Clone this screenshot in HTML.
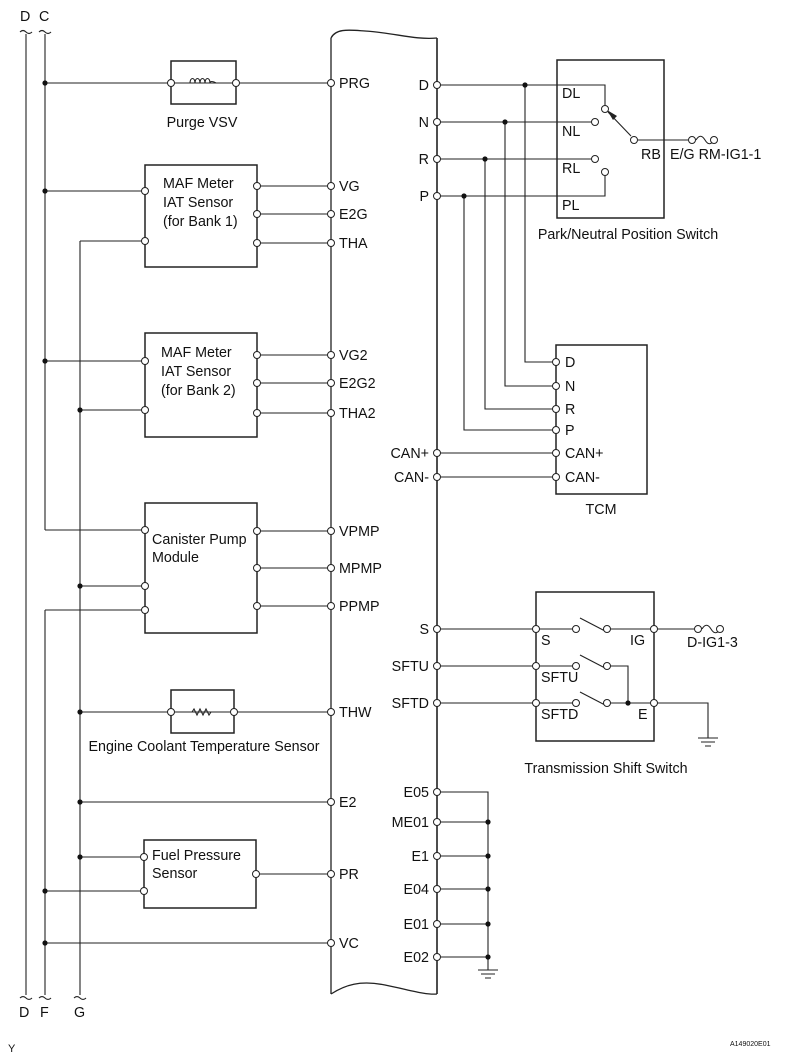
<!DOCTYPE html>
<html><head><meta charset="utf-8"><style>
html,body{margin:0;padding:0;background:#fff}
svg{display:block}
text{font-family:"Liberation Sans",Arial,sans-serif;font-size:14.3px;fill:#111}
</style></head><body>
<svg width="788" height="1056" viewBox="0 0 788 1056" xmlns="http://www.w3.org/2000/svg">
<g stroke="#222" stroke-width="1.1" fill="none">
<line x1="26" y1="34" x2="26" y2="995"/>
<line x1="45" y1="34" x2="45" y2="530"/>
<line x1="45" y1="530" x2="145" y2="530"/>
<line x1="45" y1="610" x2="45" y2="995"/>
<line x1="45" y1="610" x2="145" y2="610"/>
<line x1="80" y1="241" x2="80" y2="995"/>
<line x1="80" y1="241" x2="145" y2="241"/>
<path d="M20 32 q3 -3 6 0 t6 0 M39 32 q3 -3 6 0 t6 0"/>
<path d="M20 998 q3 -3 6 0 t6 0 M39 998 q3 -3 6 0 t6 0 M74 998 q3 -3 6 0 t6 0"/>
<path d="M331 38 C336 28 350 30 365 31 C395 33 415 40 437 38" stroke-width="1.3"/>
<line x1="331" y1="38" x2="331" y2="994" stroke-width="1.3"/>
<line x1="437" y1="38" x2="437" y2="994" stroke-width="1.6"/>
<path d="M331 994 C345 985 360 980 385 985 C410 990 425 995 437 994" stroke-width="1.3"/>
<rect x="171" y="61" width="65" height="43" stroke-width="1.5"/>
<rect x="145" y="165" width="112" height="102" stroke-width="1.5"/>
<rect x="145" y="333" width="112" height="104" stroke-width="1.5"/>
<rect x="145" y="503" width="112" height="130" stroke-width="1.5"/>
<rect x="171" y="690" width="63" height="43" stroke-width="1.5"/>
<rect x="144" y="840" width="112" height="68" stroke-width="1.5"/>
<rect x="557" y="60" width="107" height="158" stroke-width="1.5"/>
<rect x="556" y="345" width="91" height="149" stroke-width="1.5"/>
<rect x="536" y="592" width="118" height="149" stroke-width="1.5"/>
<line x1="45" y1="83" x2="331" y2="83"/>
<path d="M178 83 H190 M216 83 H229"/>
<path d="M190 83 c0-6 5-6 5 0 c0-6 5-6 5 0 c0-6 5-6 5 0 c0-6 5-6 5 0 c0 -2 3-2 6 0"/>
<line x1="45" y1="191" x2="145" y2="191"/>
<line x1="257" y1="186" x2="331" y2="186"/>
<line x1="257" y1="214" x2="331" y2="214"/>
<line x1="257" y1="243" x2="331" y2="243"/>
<line x1="45" y1="361" x2="145" y2="361"/>
<line x1="80" y1="410" x2="145" y2="410"/>
<line x1="257" y1="355" x2="331" y2="355"/>
<line x1="257" y1="383" x2="331" y2="383"/>
<line x1="257" y1="413" x2="331" y2="413"/>
<line x1="80" y1="586" x2="145" y2="586"/>
<line x1="257" y1="531" x2="331" y2="531"/>
<line x1="257" y1="568" x2="331" y2="568"/>
<line x1="257" y1="606" x2="331" y2="606"/>
<line x1="80" y1="712" x2="331" y2="712"/>
<path d="M192 712 l2 -3 l3 6 l3 -6 l3 6 l3 -6 l3 6 l2 -3"/>
<line x1="80" y1="802" x2="331" y2="802"/>
<line x1="80" y1="857" x2="144" y2="857"/>
<line x1="45" y1="891" x2="144" y2="891"/>
<line x1="256" y1="874" x2="331" y2="874"/>
<line x1="45" y1="943" x2="331" y2="943"/>
<path d="M437 85 H605 V106"/>
<line x1="437" y1="122" x2="592" y2="122"/>
<line x1="437" y1="159" x2="592" y2="159"/>
<path d="M437 196 H605 V175"/>
<line x1="608" y1="112" x2="631" y2="136"/>
<path d="M638 140 H688 M696 140 c3-5 6-5 9 0 s6 5 9 0"/>
<path d="M525 85 V362 H556 M505 122 V386 H556 M485 159 V409 H556 M464 196 V430 H556"/>
<line x1="437" y1="453" x2="556" y2="453"/>
<line x1="437" y1="477" x2="556" y2="477"/>
<line x1="437" y1="629" x2="573" y2="629"/>
<line x1="437" y1="666" x2="573" y2="666"/>
<line x1="437" y1="703" x2="573" y2="703"/>
<path d="M580 618 L605 631 M580 655 L605 668 M580 692 L605 705"/>
<path d="M610 629 H654 M610 666 H628 V703 M610 703 H654"/>
<path d="M654 629 H694 M702 629 c3-5 6-5 9 0 s6 5 9 0"/>
<path d="M654 703 H708 V738 M698 738 H718 M701 742 H715 M705 746 H711"/>
<path d="M437 792 H488 V970 M478 970 H498 M481 974 H495 M485 978 H491"/>
<path d="M437 822 H488 M437 856 H488 M437 889 H488 M437 924 H488 M437 957 H488"/>
</g>
<polygon points="607,110 617,116 613,120" fill="#222"/>
<g fill="#111">
<circle cx="45" cy="83" r="2.6"/><circle cx="45" cy="191" r="2.6"/><circle cx="45" cy="361" r="2.6"/>
<circle cx="80" cy="410" r="2.6"/><circle cx="80" cy="586" r="2.6"/><circle cx="80" cy="712" r="2.6"/>
<circle cx="80" cy="802" r="2.6"/><circle cx="80" cy="857" r="2.6"/><circle cx="45" cy="891" r="2.6"/>
<circle cx="45" cy="943" r="2.6"/>
<circle cx="525" cy="85" r="2.6"/><circle cx="505" cy="122" r="2.6"/><circle cx="485" cy="159" r="2.6"/><circle cx="464" cy="196" r="2.6"/>
<circle cx="628" cy="703" r="2.6"/>
<circle cx="488" cy="822" r="2.6"/><circle cx="488" cy="856" r="2.6"/><circle cx="488" cy="889" r="2.6"/><circle cx="488" cy="924" r="2.6"/><circle cx="488" cy="957" r="2.6"/>
</g>
<g fill="#fff" stroke="#222" stroke-width="1">
<circle cx="171" cy="83" r="3.5"/><circle cx="236" cy="83" r="3.5"/>
<circle cx="145" cy="191" r="3.5"/><circle cx="145" cy="241" r="3.5"/>
<circle cx="257" cy="186" r="3.5"/><circle cx="257" cy="214" r="3.5"/><circle cx="257" cy="243" r="3.5"/>
<circle cx="145" cy="361" r="3.5"/><circle cx="145" cy="410" r="3.5"/>
<circle cx="257" cy="355" r="3.5"/><circle cx="257" cy="383" r="3.5"/><circle cx="257" cy="413" r="3.5"/>
<circle cx="145" cy="530" r="3.5"/><circle cx="145" cy="586" r="3.5"/><circle cx="145" cy="610" r="3.5"/>
<circle cx="257" cy="531" r="3.5"/><circle cx="257" cy="568" r="3.5"/><circle cx="257" cy="606" r="3.5"/>
<circle cx="171" cy="712" r="3.5"/><circle cx="234" cy="712" r="3.5"/>
<circle cx="144" cy="857" r="3.5"/><circle cx="144" cy="891" r="3.5"/><circle cx="256" cy="874" r="3.5"/>
<circle cx="331" cy="83" r="3.5"/><circle cx="331" cy="186" r="3.5"/><circle cx="331" cy="214" r="3.5"/><circle cx="331" cy="243" r="3.5"/>
<circle cx="331" cy="355" r="3.5"/><circle cx="331" cy="383" r="3.5"/><circle cx="331" cy="413" r="3.5"/>
<circle cx="331" cy="531" r="3.5"/><circle cx="331" cy="568" r="3.5"/><circle cx="331" cy="606" r="3.5"/>
<circle cx="331" cy="712" r="3.5"/><circle cx="331" cy="802" r="3.5"/><circle cx="331" cy="874" r="3.5"/><circle cx="331" cy="943" r="3.5"/>
<circle cx="437" cy="85" r="3.5"/><circle cx="437" cy="122" r="3.5"/><circle cx="437" cy="159" r="3.5"/><circle cx="437" cy="196" r="3.5"/>
<circle cx="437" cy="453" r="3.5"/><circle cx="437" cy="477" r="3.5"/>
<circle cx="437" cy="629" r="3.5"/><circle cx="437" cy="666" r="3.5"/><circle cx="437" cy="703" r="3.5"/>
<circle cx="437" cy="792" r="3.5"/><circle cx="437" cy="822" r="3.5"/><circle cx="437" cy="856" r="3.5"/><circle cx="437" cy="889" r="3.5"/><circle cx="437" cy="924" r="3.5"/><circle cx="437" cy="957" r="3.5"/>
<circle cx="605" cy="109" r="3.5"/><circle cx="595" cy="122" r="3.5"/><circle cx="595" cy="159" r="3.5"/><circle cx="605" cy="172" r="3.5"/>
<circle cx="634" cy="140" r="3.5"/><circle cx="692" cy="140" r="3.5"/><circle cx="714" cy="140" r="3.5"/>
<circle cx="556" cy="362" r="3.5"/><circle cx="556" cy="386" r="3.5"/><circle cx="556" cy="409" r="3.5"/><circle cx="556" cy="430" r="3.5"/><circle cx="556" cy="453" r="3.5"/><circle cx="556" cy="477" r="3.5"/>
<circle cx="536" cy="629" r="3.5"/><circle cx="536" cy="666" r="3.5"/><circle cx="536" cy="703" r="3.5"/>
<circle cx="576" cy="629" r="3.5"/><circle cx="607" cy="629" r="3.5"/>
<circle cx="576" cy="666" r="3.5"/><circle cx="607" cy="666" r="3.5"/>
<circle cx="576" cy="703" r="3.5"/><circle cx="607" cy="703" r="3.5"/>
<circle cx="654" cy="629" r="3.5"/><circle cx="654" cy="703" r="3.5"/>
<circle cx="698" cy="629" r="3.5"/><circle cx="720" cy="629" r="3.5"/>
</g>
<text x="20" y="21">D</text><text x="39" y="21">C</text>
<text x="19" y="1017">D</text><text x="40" y="1017">F</text><text x="74" y="1017">G</text>
<text x="8" y="1052" style="font-size:11px">Y</text>
<text x="730" y="1046" style="font-size:7px">A149020E01</text>
<text x="202" y="127" text-anchor="middle">Purge VSV</text>
<text x="163" y="188">MAF Meter</text><text x="163" y="207">IAT Sensor</text><text x="163" y="226">(for Bank 1)</text>
<text x="161" y="357">MAF Meter</text><text x="161" y="376">IAT Sensor</text><text x="161" y="395">(for Bank 2)</text>
<text x="152" y="544">Canister Pump</text><text x="152" y="562">Module</text>
<text x="204" y="751" text-anchor="middle">Engine Coolant Temperature Sensor</text>
<text x="152" y="860">Fuel Pressure</text><text x="152" y="878">Sensor</text>
<g>
<text x="339" y="88">PRG</text><text x="339" y="191">VG</text><text x="339" y="219">E2G</text><text x="339" y="248">THA</text>
<text x="339" y="360">VG2</text><text x="339" y="388">E2G2</text><text x="339" y="418">THA2</text>
<text x="339" y="536">VPMP</text><text x="339" y="573">MPMP</text><text x="339" y="611">PPMP</text>
<text x="339" y="717">THW</text><text x="339" y="807">E2</text><text x="339" y="879">PR</text><text x="339" y="948">VC</text>
</g>
<g text-anchor="end">
<text x="429" y="90">D</text><text x="429" y="127">N</text><text x="429" y="164">R</text><text x="429" y="201">P</text>
<text x="429" y="458">CAN+</text><text x="429" y="482">CAN-</text>
<text x="429" y="634">S</text><text x="429" y="671">SFTU</text><text x="429" y="708">SFTD</text>
<text x="429" y="797">E05</text><text x="429" y="827">ME01</text><text x="429" y="861">E1</text><text x="429" y="894">E04</text><text x="429" y="929">E01</text><text x="429" y="962">E02</text>
</g>
<text x="562" y="98">DL</text><text x="562" y="136">NL</text><text x="562" y="173">RL</text><text x="562" y="210">PL</text>
<text x="641" y="159">RB</text><text x="670" y="159">E/G RM-IG1-1</text>
<text x="628" y="239" text-anchor="middle">Park/Neutral Position Switch</text>
<text x="565" y="367">D</text><text x="565" y="391">N</text><text x="565" y="414">R</text><text x="565" y="435">P</text><text x="565" y="458">CAN+</text><text x="565" y="482">CAN-</text>
<text x="601" y="514" text-anchor="middle">TCM</text>
<text x="541" y="645">S</text><text x="630" y="645">IG</text><text x="541" y="682">SFTU</text><text x="541" y="719">SFTD</text><text x="638" y="719">E</text>
<text x="687" y="647">D-IG1-3</text>
<text x="606" y="773" text-anchor="middle">Transmission Shift Switch</text>
</svg>
</body></html>
